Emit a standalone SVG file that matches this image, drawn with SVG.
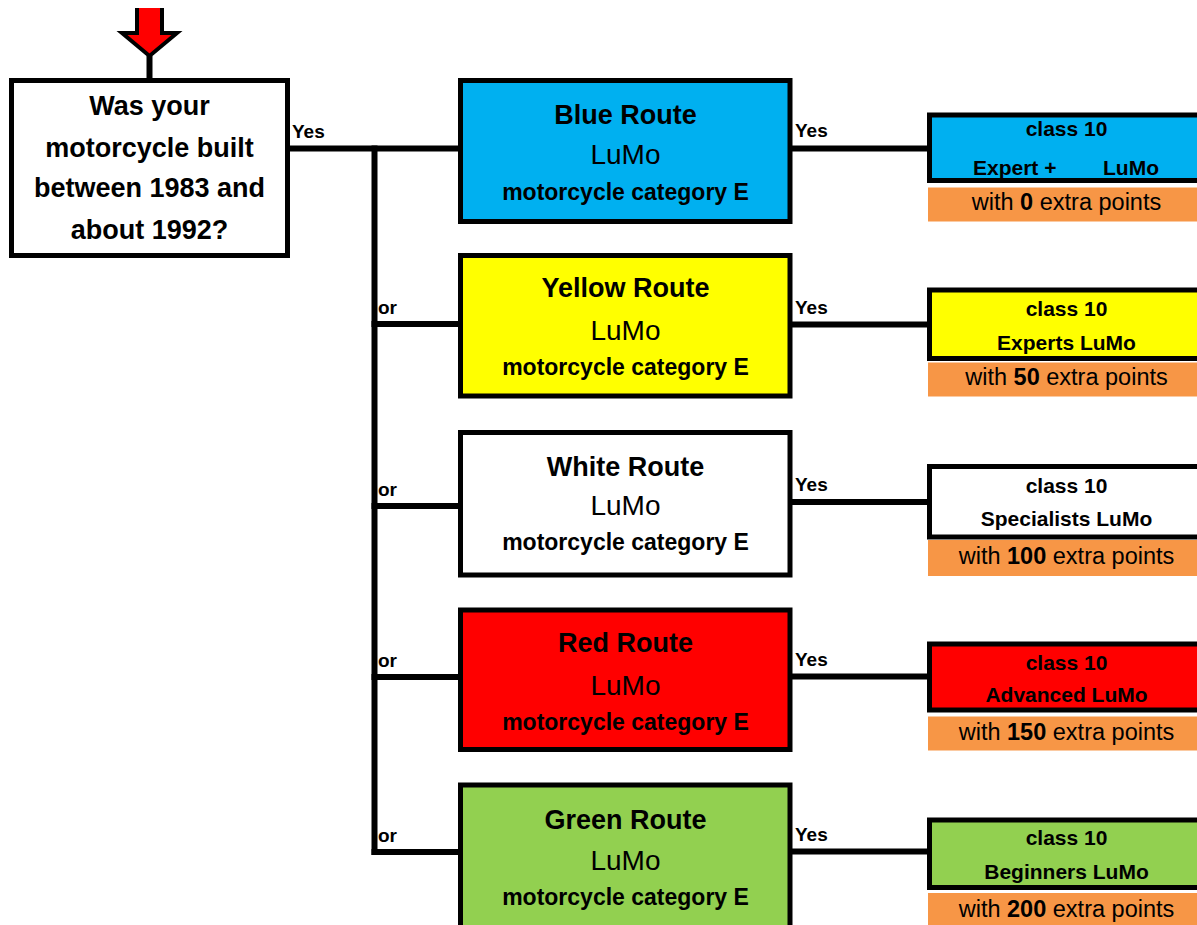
<svg xmlns="http://www.w3.org/2000/svg" width="1197" height="925" viewBox="0 0 1197 925">
<style>
text{font-family:"Liberation Sans",Arial,sans-serif;fill:#000}
.b{font-weight:bold}
.q{font-size:27px;font-weight:bold;text-anchor:middle}
.t{font-size:27px;font-weight:bold;text-anchor:middle}
.l{font-size:28px;text-anchor:middle}
.m{font-size:23px;font-weight:bold;text-anchor:middle}
.lab{font-size:19px;font-weight:bold}
.c{font-size:21px;font-weight:bold;text-anchor:middle}
.o{font-size:23.5px;text-anchor:middle}
.box{stroke:#000;stroke-width:5}
.ln{stroke:#000;stroke-width:6;fill:none}
.or{fill:#F79646}
</style>
<rect width="1197" height="925" fill="#fff"/>
<g id="start-arrow">
<path d="M137,8 V33 H122 L149.5,56 L177,33 H162 V8" fill="#FF0000" stroke="#000" stroke-width="4" stroke-linejoin="miter"/>
</g>
<g id="connectors">
<line class="ln" x1="149.5" y1="56" x2="149.5" y2="80"/>
<line class="ln" x1="287" y1="148.5" x2="461" y2="148.5"/>
<line class="ln" x1="374.5" y1="145.5" x2="374.5" y2="855"/>
<line class="ln" x1="371.5" y1="324" x2="461" y2="324"/>
<line class="ln" x1="371.5" y1="506" x2="461" y2="506"/>
<line class="ln" x1="371.5" y1="677" x2="461" y2="677"/>
<line class="ln" x1="371.5" y1="852" x2="461" y2="852"/>
<line class="ln" x1="790" y1="148.5" x2="930" y2="148.5"/>
<line class="ln" x1="790" y1="324.5" x2="930" y2="324.5"/>
<line class="ln" x1="790" y1="502" x2="930" y2="502"/>
<line class="ln" x1="790" y1="676.5" x2="930" y2="676.5"/>
<line class="ln" x1="790" y1="851.5" x2="930" y2="851.5"/>
<text class="lab" x="292" y="137.5">Yes</text>
<text class="lab" x="378" y="313.5">or</text>
<text class="lab" x="378" y="496">or</text>
<text class="lab" x="378" y="667">or</text>
<text class="lab" x="378" y="842">or</text>
<text class="lab" x="795" y="137">Yes</text>
<text class="lab" x="795" y="313.5">Yes</text>
<text class="lab" x="795" y="491">Yes</text>
<text class="lab" x="795" y="666">Yes</text>
<text class="lab" x="795" y="841">Yes</text>
</g>
<g id="question">
<rect class="box" x="11.5" y="80.5" width="276" height="175" fill="#fff"/>
<text class="q" x="149.5" y="115">Was your</text>
<text class="q" x="149.5" y="157">motorcycle built</text>
<text class="q" x="149.5" y="197">between 1983 and</text>
<text class="q" x="149.5" y="239">about 1992?</text>
</g>
<g id="blue-route">
<rect class="box" x="460.5" y="80.5" width="329.5" height="141" fill="#00B0F0"/>
<text class="t" x="625.5" y="123.5">Blue Route</text>
<text class="l" x="625.5" y="163.5">LuMo</text>
<text class="m" x="625.5" y="199.5">motorcycle category E</text>
</g>
<g id="yellow-route">
<rect class="box" x="460.5" y="255.5" width="329.5" height="140.5" fill="#FFFF00"/>
<text class="t" x="625.5" y="297">Yellow Route</text>
<text class="l" x="625.5" y="340">LuMo</text>
<text class="m" x="625.5" y="375">motorcycle category E</text>
</g>
<g id="white-route">
<rect class="box" x="460.5" y="432.5" width="329.5" height="142.5" fill="#fff"/>
<text class="t" x="625.5" y="476">White Route</text>
<text class="l" x="625.5" y="515">LuMo</text>
<text class="m" x="625.5" y="550">motorcycle category E</text>
</g>
<g id="red-route">
<rect class="box" x="460.5" y="610" width="329.5" height="139.5" fill="#FF0000"/>
<text class="t" x="625.5" y="652">Red Route</text>
<text class="l" x="625.5" y="695">LuMo</text>
<text class="m" x="625.5" y="730">motorcycle category E</text>
</g>
<g id="green-route">
<rect class="box" x="460.5" y="785" width="329.5" height="160" fill="#92D050"/>
<text class="t" x="625.5" y="828.5">Green Route</text>
<text class="l" x="625.5" y="869.5">LuMo</text>
<text class="m" x="625.5" y="905">motorcycle category E</text>
</g>
<g id="class-blue">
<rect class="box" x="929.5" y="115" width="290" height="65.5" fill="#00B0F0"/>
<rect class="or" x="928" y="187.5" width="280" height="34"/>
<text class="c" x="1066.5" y="136">class 10</text>
<text class="b" style="font-size:21px"><tspan x="973" y="175">Expert +</tspan><tspan x="1103" y="175">LuMo</tspan></text>
<text class="o" x="1066.5" y="210">with <tspan class="b">0</tspan> extra points</text>
</g>
<g id="class-yellow">
<rect class="box" x="929.5" y="290" width="290" height="68.5" fill="#FFFF00"/>
<rect class="or" x="928" y="362.5" width="280" height="34"/>
<text class="c" x="1066.5" y="316">class 10</text>
<text class="c" x="1066.5" y="349.5">Experts LuMo</text>
<text class="o" x="1066.5" y="385">with <tspan class="b">50</tspan> extra points</text>
</g>
<g id="class-white">
<rect class="box" x="929.5" y="466.5" width="290" height="70.5" fill="#fff"/>
<rect class="or" x="928" y="540" width="280" height="36"/>
<text class="c" x="1066.5" y="492.5">class 10</text>
<text class="c" x="1066.5" y="526">Specialists LuMo</text>
<text class="o" x="1066.5" y="563.5">with <tspan class="b">100</tspan> extra points</text>
</g>
<g id="class-red">
<rect class="box" x="929.5" y="644" width="290" height="66" fill="#FF0000"/>
<rect class="or" x="928" y="716.5" width="280" height="34"/>
<text class="c" x="1066.5" y="669.5">class 10</text>
<text class="c" x="1066.5" y="702">Advanced LuMo</text>
<text class="o" x="1066.5" y="739.5">with <tspan class="b">150</tspan> extra points</text>
</g>
<g id="class-green">
<rect class="box" x="929.5" y="820" width="290" height="67.5" fill="#92D050"/>
<rect class="or" x="928" y="893" width="280" height="40"/>
<text class="c" x="1066.5" y="845">class 10</text>
<text class="c" x="1066.5" y="878.5">Beginners LuMo</text>
<text class="o" x="1066.5" y="917">with <tspan class="b">200</tspan> extra points</text>
</g>
</svg>
